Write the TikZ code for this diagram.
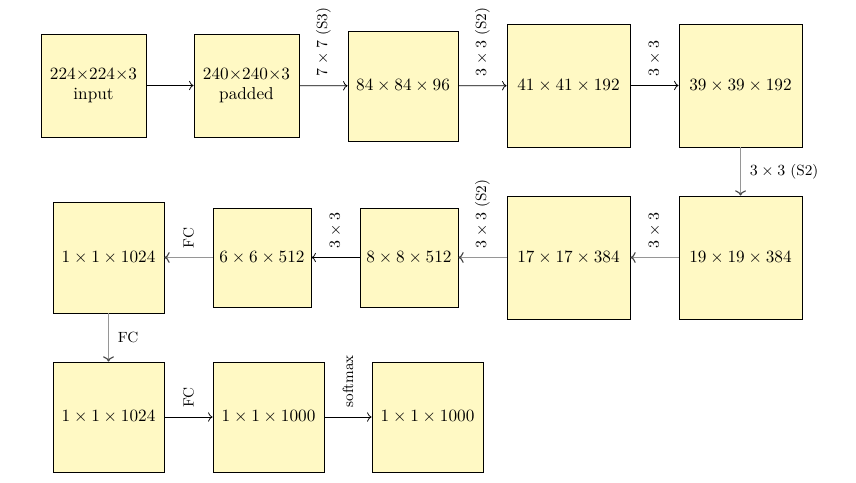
\documentclass[tikz,border=0pt]{standalone}
\usepackage{amsmath}
\usetikzlibrary{arrows.meta}
\definecolor{boxfill}{RGB}{255,249,196}
\definecolor{arrgray}{RGB}{150,150,150}
\definecolor{tipgray}{RGB}{70,70,70}
\tikzset{
  px/.style={x=0.581pt,y=-0.581pt},
  layer/.style 2 args={draw=black, line width=0.5pt, fill=boxfill, align=center,
    minimum width=#1*0.581pt, minimum height=#2*0.581pt, inner sep=1pt},
  conn/.style={-{To}, line width=0.45pt},
  gconn/.style={-{To[color=tipgray]}, line width=0.65pt, draw=arrgray},
  hlab/.style={rotate=90, anchor=west, inner sep=2.5pt, outer sep=3pt,
    font=\fontsize{8.6}{10}\selectfont},
  vlab/.style={anchor=west, inner sep=2.5pt, outer sep=3pt,
    font=\fontsize{8.6}{10}\selectfont}
}
\begin{document}
\begin{tikzpicture}[px]
\useasboundingbox (0,0) rectangle (856,483);
\node[layer={105}{103}] (in) at (93.5,85.5) {$224{\times}224{\times}3$\\input};
\node[layer={105}{103}] (pad) at (246.5,85.5) {$240{\times}240{\times}3$\\padded};
\node[layer={110}{110}] (c84) at (403,86) {$84\times84\times96$};
\node[layer={123}{123}] (c41) at (568.5,85.5) {$41\times41\times192$};
\node[layer={123}{123}] (c39) at (740.5,85.5) {$39\times39\times192$};
\node[layer={123}{123}] (c19) at (740.5,257.5) {$19\times19\times384$};
\node[layer={123}{123}] (c17) at (568.5,257.5) {$17\times17\times384$};
\node[layer={98}{99}] (c8) at (409,257.5) {$8\times8\times512$};
\node[layer={98}{99}] (c6) at (262,257.5) {$6\times6\times512$};
\node[layer={111}{111}] (f1) at (108.5,257.5) {$1\times1\times1024$};
\node[layer={111}{110}] (f2) at (108.5,417) {$1\times1\times1024$};
\node[layer={111}{110}] (f3) at (268.5,417) {$1\times1\times1000$};
\node[layer={111}{110}] (sm) at (427.5,417) {$1\times1\times1000$};

\draw[conn] (in) -- (pad);
\draw[conn] (pad) -- node[hlab]{$7\times7$ (S3)} (c84);
\draw[conn] (c84) -- node[hlab]{$3\times3$ (S2)} (c41);
\draw[conn] (c41) -- node[hlab]{$3\times3$} (c39);
\draw[gconn] (c39) -- node[vlab]{$3\times3$ (S2)} (c19);
\draw[gconn] (c19) -- node[hlab]{$3\times3$} (c17);
\draw[gconn] (c17) -- node[hlab]{$3\times3$ (S2)} (c8);
\draw[conn] (c8) -- node[hlab]{$3\times3$} (c6);
\draw[gconn] (c6) -- node[hlab]{FC} (f1);
\draw[gconn] (f1) -- node[vlab]{FC} (f2);
\draw[conn] (f2) -- node[hlab]{FC} (f3);
\draw[conn] (f3) -- node[hlab]{softmax} (sm);
\end{tikzpicture}
\end{document}
